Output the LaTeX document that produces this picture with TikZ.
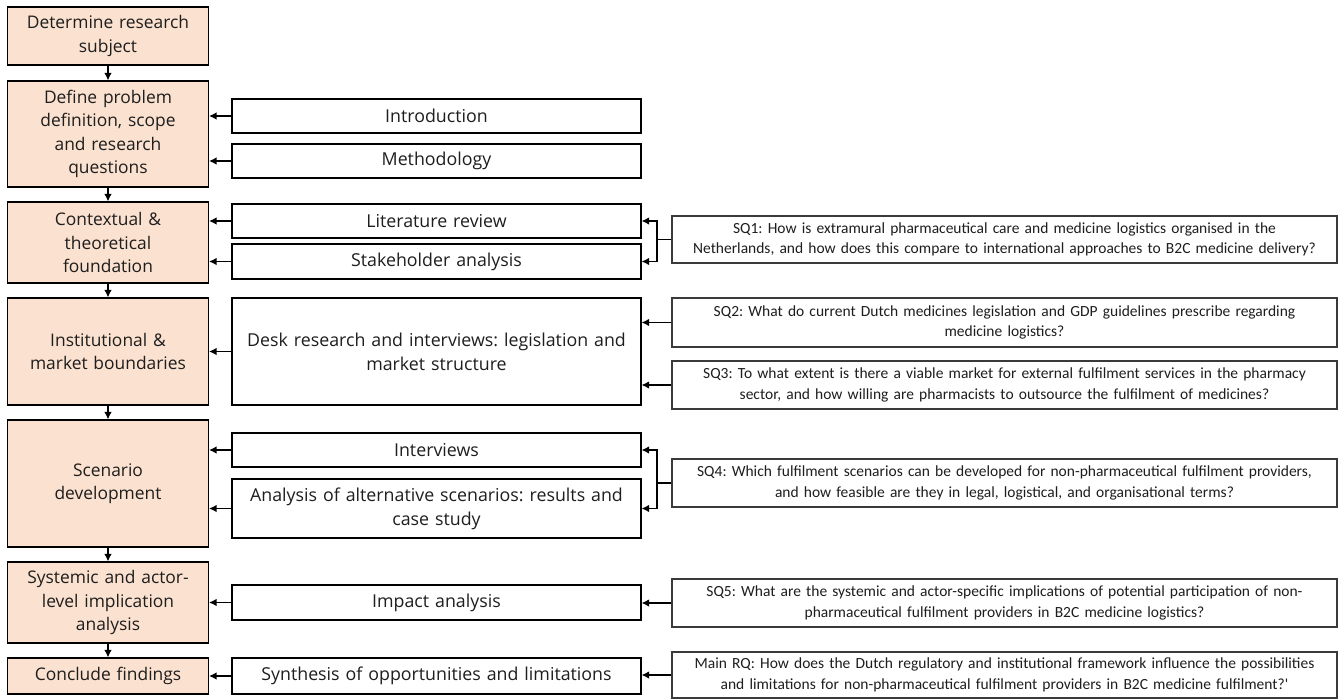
\documentclass[tikz,border=0pt]{standalone}
\usepackage{fontspec}
\setmainfont{Open Sans}
\newfontfamily\narrowfont{Carlito}
\usetikzlibrary{arrows.meta}
\definecolor{peach}{HTML}{FBE1CF}
\definecolor{txt}{HTML}{1E1E1E}
\definecolor{edge}{HTML}{3A3A3A}
\tikzset{
  lbox/.style={draw=black, fill=peach, line width=1.1pt, inner sep=0pt, align=center,
    text=txt, font=\frenchspacing\fontsize{17.4}{23.5}\selectfont, minimum width=201pt, text width=198pt},
  mbox/.style={draw=black, fill=white, line width=1.1pt, inner sep=0pt, align=center,
    text=txt, font=\frenchspacing\fontsize{17.8}{24}\selectfont, minimum width=409pt, text width=404pt},
  rbox/.style={draw=edge, fill=white, line width=1.1pt, inner sep=0pt, align=center,
    text=txt, font=\frenchspacing\narrowfont\fontsize{15.5}{20.5}\selectfont, minimum width=665pt, text width=662pt},
  conn/.style={line width=1.3pt, draw=black},
  arr/.style={conn, -{Latex[length=7.5pt,width=7.5pt]}}
}
\begin{document}
\begin{tikzpicture}[x=1pt,y=-1pt]
\useasboundingbox (0,0) rectangle (1344,699);
% left column
\node[lbox, minimum height=58pt]  (b1) at (108,36)    {Determine research\\subject};
\node[lbox, minimum height=106pt] (b2) at (108,134)   {Define problem\\definition, scope\\and research\\questions};
\node[lbox, minimum height=81pt]  (b3) at (108,242.5) {Contextual \&\\theoretical\\foundation};
\node[lbox, minimum height=107pt] (b4) at (108,351.5) {Institutional \&\\market boundaries};
\node[lbox, minimum height=127pt] (b5) at (108,483.5) {Scenario\\development};
\node[lbox, minimum height=81pt]  (b6) at (108,602.5) {Systemic and actor-\\level implication\\analysis};
\node[lbox, minimum height=36pt]  (b7) at (108,676)   {Conclude findings};
% middle column
\node[mbox, minimum height=34pt]  (intro) at (436.5,116)   {Introduction};
\node[mbox, minimum height=34pt]  (meth)  at (436.5,161)   {Methodology};
\node[mbox, minimum height=34pt]  (lit)   at (436.5,221)   {Literature review};
\node[mbox, minimum height=35pt]  (stake) at (436.5,261.5) {Stakeholder analysis};
\node[mbox, minimum height=107pt] (desk)  at (436.5,351.5) {Desk research and interviews: legislation and\\market structure};
\node[mbox, minimum height=34pt]  (intv)  at (436.5,450)   {Interviews};
\node[mbox, minimum height=59pt]  (anal)  at (436.5,508.5) {Analysis of alternative scenarios: results and\\case study};
\node[mbox, minimum height=35pt]  (imp)   at (436.5,602.5) {Impact analysis};
\node[mbox, minimum height=36pt]  (syn)   at (436.5,676)   {Synthesis of opportunities and limitations};
% right column
\node[rbox, minimum height=47pt] (sq1) at (1004.5,239.5) {SQ1: How is extramural pharmaceutical care and medicine logistics organised in the\\Netherlands, and how does this compare to international approaches to B2C medicine delivery?};
\node[rbox, minimum height=49pt] (sq2) at (1004.5,322.5) {SQ2: What do current Dutch medicines legislation and GDP guidelines prescribe regarding\\medicine logistics?};
\node[rbox, minimum height=48pt] (sq3) at (1004.5,385)   {SQ3: To what extent is there a viable market for external fulfilment services in the pharmacy\\sector, and how willing are pharmacists to outsource the fulfilment of medicines?};
\node[rbox, minimum height=48pt] (sq4) at (1004.5,483)   {SQ4: Which fulfilment scenarios can be developed for non-pharmaceutical fulfilment providers,\\and how feasible are they in legal, logistical, and organisational terms?};
\node[rbox, minimum height=48pt] (sq5) at (1004.5,603)   {SQ5: What are the systemic and actor-specific implications of potential participation of non-\\pharmaceutical fulfilment providers in B2C medicine logistics?};
\node[rbox, minimum height=46pt] (rq)  at (1004.5,675)   {Main RQ: How does the Dutch regulatory and institutional framework influence the possibilities\\and limitations for non-pharmaceutical fulfilment providers in B2C medicine fulfilment?'};
% left vertical flow
\draw[arr] (b1) -- (b2);
\draw[arr] (b2) -- (b3);
\draw[arr] (b3) -- (b4);
\draw[arr] (b4) -- (b5);
\draw[arr] (b5) -- (b6);
\draw[arr] (b6) -- (b7);
% middle to left
\foreach \m in {intro,meth,lit,stake,desk,intv,anal,imp,syn}
  \draw[arr] (\m.west) -- (\m.west -| b1.east);
% right to middle
\coordinate (j1) at (657,239.5);
\draw[conn] (sq1.west) -- (j1);
\draw[arr] (j1) |- (lit.east);
\draw[arr] (j1) |- (stake.east);
\draw[arr] (sq2.west) -- (sq2.west -| desk.east);
\draw[arr] (sq3.west) -- (sq3.west -| desk.east);
\coordinate (j4) at (657,483);
\draw[conn] (sq4.west) -- (j4);
\draw[arr] (j4) |- (intv.east);
\draw[arr] (j4) |- (anal.east);
\draw[arr] (sq5.west) -- (sq5.west -| imp.east);
\draw[arr] (rq.west) -- (rq.west -| syn.east);
\end{tikzpicture}
\end{document}
